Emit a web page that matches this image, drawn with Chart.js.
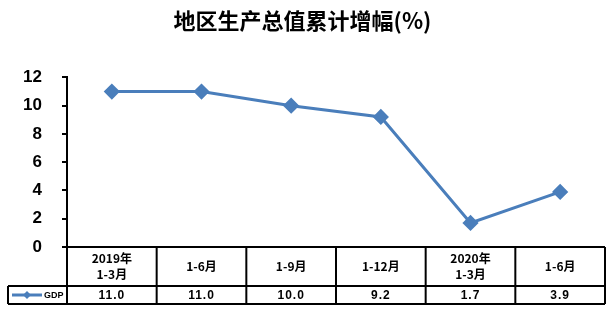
<!DOCTYPE html>
<html>
<head>
<meta charset="utf-8">
<script src="https://cdn.jsdelivr.net/npm/chart.js@4"></script>
<style>
  body { margin: 0; background: #fff; }
</style>
</head>
<body>
<canvas id="chart" width="615" height="314"></canvas>
<script>
var titleText = '地区生产总值累计增幅(%)';
var categories = [['2019年', '1-3月'], ['1-6月'], ['1-9月'], ['1-12月'], ['2020年', '1-3月'], ['1-6月']];
var seriesName = 'GDP';
var gdpValues = [11.0, 11.0, 10.0, 9.2, 1.7, 3.9];
var yTicks = [0, 2, 4, 6, 8, 10, 12];

var lineColor = '#4a7ebb';
var cjkFont = '"Noto Sans CJK SC", "Liberation Sans", sans-serif';

// draws the data table below the x axis, one column per category
var dataTablePlugin = {
    id: 'dataTable',
    afterDraw: function (chart) {
        var ctx = chart.ctx;
        var x = chart.scales.x;
        var area = chart.chartArea;
        var top = area.bottom;
        var mid = top + 39;
        var bottom = top + 57;
        var legendLeft = 8;
        var n = categories.length;
        var half = (x.getPixelForValue(1) - x.getPixelForValue(0)) / 2;

        ctx.save();
        ctx.strokeStyle = '#000';
        ctx.lineWidth = 2;
        ctx.beginPath();
        // horizontal lines
        ctx.moveTo(area.left, top); ctx.lineTo(area.right, top);
        ctx.moveTo(legendLeft, mid); ctx.lineTo(area.right, mid);
        ctx.moveTo(legendLeft, bottom); ctx.lineTo(area.right, bottom);
        // left borders
        ctx.moveTo(area.left, top); ctx.lineTo(area.left, bottom);
        ctx.moveTo(legendLeft, mid); ctx.lineTo(legendLeft, bottom);
        // column borders
        for (var i = 0; i < n; i++) {
            var bx = x.getPixelForValue(i) + half;
            ctx.moveTo(bx, top); ctx.lineTo(bx, bottom);
        }
        ctx.stroke();

        ctx.fillStyle = '#000';
        ctx.textAlign = 'center';
        ctx.textBaseline = 'middle';
        for (var j = 0; j < n; j++) {
            var cx = x.getPixelForValue(j);
            var lines = categories[j];
            var cy = (top + mid) / 2;
            ctx.font = 'bold 12px ' + cjkFont;
            if (lines.length == 2) {
                ctx.fillText(lines[0], cx, cy - 8);
                ctx.fillText(lines[1], cx, cy + 8);
            } else {
                ctx.fillText(lines[0], cx, cy);
            }
            ctx.font = 'bold 12px "Liberation Sans", sans-serif';
            ctx.letterSpacing = '1px';
            ctx.fillText(gdpValues[j].toFixed(1), cx, (mid + bottom) / 2 + 1);
            ctx.letterSpacing = '0px';
        }

        // legend key
        var ly = (mid + bottom) / 2;
        ctx.strokeStyle = lineColor;
        ctx.lineWidth = 3;
        ctx.beginPath();
        ctx.moveTo(12, ly); ctx.lineTo(42, ly);
        ctx.stroke();
        ctx.fillStyle = lineColor;
        ctx.beginPath();
        ctx.moveTo(27, ly - 4); ctx.lineTo(31, ly); ctx.lineTo(27, ly + 4); ctx.lineTo(23, ly);
        ctx.closePath();
        ctx.fill();
        ctx.fillStyle = '#000';
        ctx.textAlign = 'left';
        ctx.font = 'bold 9px "Liberation Sans Narrow", "Liberation Sans", sans-serif';
        ctx.fillText(seriesName, 44, ly + 1);
        ctx.restore();
    }
};

var ctx = document.getElementById('chart').getContext('2d');
var chart = new Chart(ctx, {
    type: 'line',
    data: {
        labels: categories,
        datasets: [{
            label: seriesName,
            data: gdpValues,
            borderColor: lineColor,
            backgroundColor: lineColor,
            borderWidth: 3,
            pointStyle: 'rectRot',
            pointRadius: 6,
            pointHoverRadius: 6,
            tension: 0,
            fill: false
        }]
    },
    options: {
        responsive: false,
        animation: false,
        events: [],
        layout: { padding: { top: 0, right: 10, bottom: 10, left: 0 } },
        plugins: {
            legend: { display: false },
            tooltip: { enabled: false },
            title: {
                display: true,
                text: titleText,
                color: '#000',
                font: { family: cjkFont, size: 22, weight: 'bold', lineHeight: 1.2 },
                padding: { top: 7, bottom: 44 }
            }
        },
        scales: {
            x: {
                offset: true,
                grid: { display: false },
                border: { display: false },
                ticks: { display: false },
                afterFit: function (scale) { scale.height = 57; }
            },
            y: {
                min: 0,
                max: 12,
                afterBuildTicks: function (scale) {
                    scale.ticks = yTicks.map(function (v) { return { value: v }; });
                },
                grid: { drawOnChartArea: false, color: '#000', lineWidth: 2, tickLength: 5 },
                border: { display: true, color: '#000', width: 2 },
                ticks: {
                    color: '#000',
                    padding: 20,
                    font: { family: '"Liberation Sans", Arial, sans-serif', size: 17, weight: 'bold' }
                },
                afterFit: function (scale) { scale.width = 67; }
            }
        }
    },
    plugins: [dataTablePlugin]
});
</script>
</body>
</html>
